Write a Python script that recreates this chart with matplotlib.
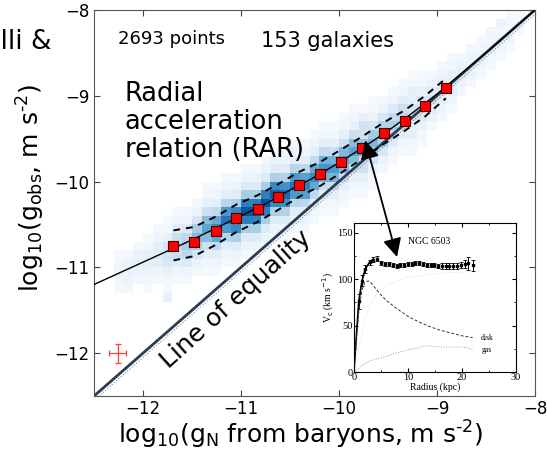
import numpy as np
import matplotlib
matplotlib.use('Agg')
import matplotlib.pyplot as plt
from matplotlib.patches import FancyArrowPatch

# binned means (red squares)
bin_x = [-11.69, -11.48, -11.26, -11.05, -10.83, -10.62, -10.41, -10.19,
         -9.98, -9.77, -9.54, -9.33, -9.12, -8.91]
bin_y = [-10.75, -10.70, -10.58, -10.43, -10.32, -10.18, -10.04, -9.91,
         -9.77, -9.61, -9.44, -9.29, -9.12, -8.91]
# scatter about the mean (dashed lines)
dash_up = [0.18, 0.17, 0.17, 0.16, 0.16, 0.15, 0.15, 0.14, 0.14, 0.13, 0.13, 0.12, 0.12, 0.11]
dash_lo = [0.17, 0.17, 0.16, 0.16, 0.15, 0.15, 0.14, 0.14, 0.13, 0.13, 0.12, 0.12, 0.12, 0.12]

# fitted relation (solid black line)
rar_x = [-12.5, -12.25, -12.0, -11.75, -11.5, -11.25, -11.0, -10.75, -10.5, -10.25,
         -10.0, -9.75, -9.5, -9.25, -9.0, -8.75, -8.5, -8.25, -8.0]
rar_y = [-11.20, -11.07, -10.94, -10.81, -10.68, -10.54, -10.40, -10.26, -10.10, -9.95,
         -9.78, -9.60, -9.41, -9.20, -8.98, -8.74, -8.50, -8.25, -8.0]

# density of data points: column weight and profile across the relation
col_x = [-12.25, -12.15, -12.05, -11.95, -11.85, -11.75, -11.65, -11.55, -11.45, -11.35,
         -11.25, -11.15, -11.05, -10.95, -10.85, -10.75, -10.65, -10.55, -10.45, -10.35,
         -10.25, -10.15, -10.05, -9.95, -9.85, -9.75, -9.65, -9.55, -9.45, -9.35,
         -9.25, -9.15, -9.05, -8.95, -8.85, -8.75, -8.65, -8.55, -8.45, -8.35,
         -8.25, -8.15]
col_w = [0.06, 0.08, 0.10, 0.12, 0.15, 0.22, 0.32, 0.40, 0.50, 0.62,
         0.75, 0.85, 0.95, 1.00, 1.00, 1.00, 0.95, 0.90, 0.85, 0.80,
         0.75, 0.70, 0.68, 0.65, 0.62, 0.58, 0.52, 0.45, 0.38, 0.32,
         0.26, 0.22, 0.18, 0.15, 0.12, 0.10, 0.08, 0.07, 0.06, 0.05,
         0.04, 0.03]
profile = [0.03, 0.07, 0.15, 0.4, 0.8, 1.0, 0.8, 0.4, 0.15, 0.07, 0.03]
extra_cells = [(-11.75, -11.35, 0.10), (-12.05, -11.05, 0.08), (-11.95, -11.05, 0.08),
               (-8.35, -8.15, 0.08), (-8.25, -8.35, 0.06), (-8.45, -8.25, 0.05)]

# inset: NGC 6503 rotation curve
obs_r = [0.9, 1.5, 2.1, 2.9, 3.5, 4.3, 5.1, 5.8, 6.5, 7.2, 7.9, 8.6, 9.3, 10.0,
         10.7, 11.4, 12.1, 12.8, 13.5, 14.2, 14.9, 15.6, 16.3, 17.0, 17.7, 18.4,
         19.1, 19.8, 20.5, 21.2, 22.0]
obs_v = [76, 98, 111, 118, 121, 122, 117, 116, 116, 115, 114, 115, 115, 116,
         116, 117, 117, 116, 115, 115, 115, 114, 114, 114, 114, 114,
         114, 115, 116, 117, 115]
obs_e = [8, 6, 4, 3, 3, 3, 2, 2, 2, 2, 2, 2, 2, 2,
         2, 2, 2, 2, 2, 2, 2, 2, 3, 3, 3, 3,
         3, 3, 4, 7, 6]
disk_r = [0, 0.5, 1, 1.5, 2, 2.6, 3, 4, 5, 6, 8, 10, 12, 14, 16, 18, 20, 22]
disk_v = [0, 40, 70, 88, 96, 98, 97, 90, 83, 77, 68, 60, 54, 49, 45, 42, 39, 37]
gas_r = [0, 1, 2, 3, 4, 5, 6, 8, 10, 12, 13, 14, 16, 18, 20, 21, 22]
gas_v = [0, 5, 9, 12, 14, 15, 17, 21, 24, 26, 28, 28, 27, 27, 27, 26, 24]
halo_r = [0, 1, 2, 3, 4, 5, 6, 8, 10, 14, 18, 22]
halo_v = [0, 30, 55, 72, 82, 88, 93, 98, 102, 105, 107, 108]

fig = plt.figure(figsize=(5.47, 4.51), dpi=100)
ax = fig.add_axes([0.172, 0.122, 0.806, 0.856])

# density map
edges = np.round(np.arange(-12.5, -7.95, 0.1), 2)
cen = edges[:-1] + 0.05
dens = np.full((len(cen), len(cen)), np.nan)
for i, xc in enumerate(cen):
    j = np.argmin(np.abs(np.array(col_x) - xc))
    if abs(col_x[j] - xc) > 0.01:
        continue
    yc0 = np.interp(xc, rar_x, rar_y)
    for k, yc in enumerate(cen):
        off = int(np.round((yc - yc0) / 0.1))
        if abs(off) <= 5:
            dens[k, i] = col_w[j] * profile[off + 5]
for xc, yc, v in extra_cells:
    dens[np.argmin(np.abs(cen - yc)), np.argmin(np.abs(cen - xc))] = v
dens = np.ma.masked_where(~(dens > 0.015), dens)
ax.pcolormesh(edges, edges, dens, cmap='Blues', vmin=0, vmax=1.15, zorder=1)

# line of equality
ax.plot([-12.5, -8], [-12.5, -8], color='#2b3d52', lw=2, zorder=2)
ax.plot([-12.5, -8], [-12.55, -8.05], color='#7a8899', lw=0.8, ls=':', zorder=2)

ax.plot(rar_x, rar_y, color='black', lw=1, zorder=3)
ax.plot(bin_x, np.array(bin_y) + np.array(dash_up), 'k--', lw=1.4, dashes=(3.5, 3), zorder=3)
ax.plot(bin_x, np.array(bin_y) - np.array(dash_lo), 'k--', lw=1.4, dashes=(3.5, 3), zorder=3)
ax.plot(bin_x, bin_y, 's', color='red', mec='#400000', mew=0.8, ms=7, zorder=4)

ax.errorbar([-12.26], [-12.0], xerr=[0.09], yerr=[0.11], fmt='none', ecolor='#ff4040',
            elinewidth=0.9, capsize=2, capthick=0.9, zorder=4)

ax.set_xlim(-12.5, -8)
ax.set_ylim(-12.5, -8)
ax.set_xticks([-12, -11, -10, -9, -8])
ax.set_yticks([-12, -11, -10, -9, -8])
ax.tick_params(direction='in', top=True, right=True, labelsize=12, length=4,
               color='#444444')
ax.tick_params(axis='x', pad=3)
for s in ax.spines.values():
    s.set_color('#555555')
ax.set_xlabel(r'log$_{10}$(g$_{\rm N}$ from baryons, m s$^{\text{-}2}$)', fontsize=18)
ax.set_ylabel(r'log$_{10}$(g$_{\rm obs}$, m s$^{\text{-}2}$)', fontsize=18)
ax.xaxis.set_label_coords(0.468, -0.058)
ax.yaxis.set_label_coords(-0.106, 0.54)

ax.text(0.055, 0.912, '2693 points', transform=ax.transAxes, fontsize=13)
ax.text(0.378, 0.903, '153 galaxies', transform=ax.transAxes, fontsize=15)
ax.text(0.07, 0.815, 'Radial\nacceleration\nrelation (RAR)', transform=ax.transAxes,
        fontsize=18.5, va='top', linespacing=1.1)
ax.text(-11.05, -11.38, 'Line of equality', fontsize=18, rotation=42,
        ha='center', va='center')
fig.text(52 / 547, 1 - 42 / 451, 'Lelli &', fontsize=19, ha='right', va='center')

# inset
ins = fig.add_axes([0.647, 0.175, 0.296, 0.330])
serif = 'Liberation Serif'
ins.errorbar(obs_r, obs_v, yerr=obs_e, fmt='s', color='black', ms=2, lw=0.7,
             capsize=1.2, capthick=0.6)
ins.plot([0] + obs_r[:5], [0] + obs_v[:5], color='black', lw=1.2)
ins.plot(disk_r, disk_v, color='#333333', lw=0.7, ls='--', dashes=(3, 2))
ins.plot(gas_r, gas_v, color='#999999', lw=0.7, ls=':')
ins.plot(halo_r, halo_v, color='#d8d8d8', lw=0.6, ls=':')
ins.text(23.5, 37, 'disk', fontsize=5.5, family=serif, va='center')
ins.text(23.7, 24, 'gas', fontsize=5.5, family=serif, va='center')
ins.text(14, 140, 'NGC 6503', fontsize=7, family=serif, ha='center', va='center')
ins.set_xlim(0, 30)
ins.set_ylim(0, 160)
ins.set_xticks([0, 10, 20, 30])
ins.set_yticks([0, 50, 100, 150])
ins.set_xticks([5, 15, 25], minor=True)
ins.set_yticks([25, 75, 125], minor=True)
ins.tick_params(which='both', direction='in', top=True, right=True, labelsize=7.5,
                pad=1, length=3)
ins.tick_params(which='minor', length=1.5)
for t in ins.get_xticklabels() + ins.get_yticklabels():
    t.set_family(serif)
ins.set_xlabel('Radius (kpc)', fontsize=7, family=serif, labelpad=0)
ins.set_ylabel(r'V$_{\rm c}$ (km s$^{-1}$)', fontsize=7, family=serif, labelpad=1)

# double-headed arrow from the RAR to the rotation curve, drawn above both axes
arrow = FancyArrowPatch((-9.733, -9.52), (-9.408, -10.88), transform=ax.transData,
                        arrowstyle='<|-|>', color='black', lw=1.3,
                        mutation_scale=28, shrinkA=0, shrinkB=0, zorder=10)
fig.add_artist(arrow)

fig.savefig('out.png', dpi=100)
